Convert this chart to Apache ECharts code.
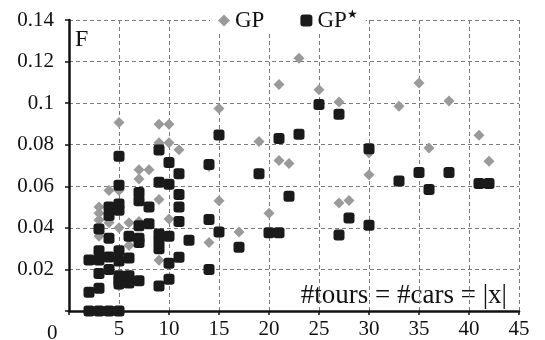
<!DOCTYPE html>
<html>
<head>
<meta charset="utf-8">
<script src="https://cdn.jsdelivr.net/npm/echarts@6/dist/echarts.min.js"></script>
<style>
  html, body { margin: 0; padding: 0; background: #fff; }
  #chart { width: 545px; height: 340px; }
</style>
</head>
<body>
<div id="chart"></div>
<script>
// GP (gray diamonds): [tours, F]
const gpPoints = [
  [3, 0.036], [3, 0.0438], [3, 0.047], [3, 0.050],
  [4, 0.0425], [4, 0.058],
  [5, 0], [5, 0.012], [5, 0.040], [5, 0.058], [5, 0.0907],
  [6, 0.0315], [6, 0.0425],
  [7, 0.043], [7, 0.0635], [7, 0.068],
  [8, 0.068],
  [9, 0.0244], [9, 0.0537], [9, 0.081], [9, 0.0898],
  [10, 0.0443], [10, 0.081], [10, 0.0898],
  [11, 0.0776],
  [14, 0.033], [14, 0.0695],
  [15, 0.053], [15, 0.0974],
  [17, 0.038],
  [19, 0.0816],
  [20, 0.047],
  [21, 0.0724], [21, 0.109],
  [22, 0.071],
  [23, 0.1216],
  [25, 0.1064],
  [27, 0.052], [27, 0.1006],
  [28, 0.0532],
  [30, 0.0655], [30, 0.076],
  [33, 0.0985],
  [35, 0.1097],
  [36, 0.0784],
  [38, 0.101],
  [41, 0.0845],
  [42, 0.0721]
]

// GP* (black squares): [tours, F]
const gpStarPoints = [
  [2, 0], [2, 0.009], [2, 0.0245],
  [3, 0], [3, 0.011], [3, 0.018], [3, 0.0245], [3, 0.029], [3, 0.0395],
  [4, 0], [4, 0.020], [4, 0.026], [4, 0.035], [4, 0.046], [4, 0.050],
  [5, 0], [5, 0.013], [5, 0.0145], [5, 0.017], [5, 0.024], [5, 0.029],
  [5, 0.0485], [5, 0.0515], [5, 0.0605], [5, 0.0745],
  [6, 0.0135], [6, 0.017], [6, 0.0255], [6, 0.036],
  [7, 0.0145], [7, 0.033], [7, 0.035], [7, 0.041], [7, 0.053], [7, 0.057],
  [8, 0.042], [8, 0.050],
  [9, 0.012], [9, 0.030], [9, 0.0335], [9, 0.037], [9, 0.062], [9, 0.0775],
  [10, 0.0153], [10, 0.023], [10, 0.036], [10, 0.061], [10, 0.0715],
  [11, 0.0258], [11, 0.043], [11, 0.050], [11, 0.056], [11, 0.066],
  [12, 0.034],
  [14, 0.020], [14, 0.044], [14, 0.0705],
  [15, 0.038], [15, 0.0847],
  [17, 0.0307],
  [19, 0.066],
  [20, 0.0377],
  [21, 0.0377], [21, 0.083],
  [22, 0.0552],
  [23, 0.085],
  [25, 0.0993],
  [27, 0.0366], [27, 0.0947],
  [28, 0.0448],
  [30, 0.0413], [30, 0.078],
  [33, 0.0626],
  [35, 0.0666],
  [36, 0.0584],
  [38, 0.0666],
  [41, 0.0614],
  [42, 0.0614]
]

const xTicks = [0, 5, 10, 15, 20, 25, 30, 35, 40, 45]
const yTicks = [0, 0.02, 0.04, 0.06, 0.08, 0.1, 0.12, 0.14]

const serif = "Liberation Serif"
const gridLine = { color: "#7a7a7a", width: 1, type: [4, 3] }

const chart = echarts.init(document.getElementById("chart"))

chart.setOption({
  animation: false,
  grid: { left: 69, right: 26, top: 20, bottom: 24 },
  legend: {
    left: 210,
    top: 9,
    itemWidth: 12,
    itemHeight: 12,
    itemGap: 36,
    padding: [0, 8, 0, 8],
    backgroundColor: "#fff",
    textStyle: {
      fontFamily: serif,
      fontSize: 23,
      color: "#111",
      rich: {
        s: { fontFamily: serif, fontSize: 12, color: "#111", verticalAlign: "top", padding: [0, 0, 10, 0] }
      }
    },
    formatter: (name) => name.replace("★", "{s|★}"),
    data: ["GP", "GP★"]
  },
  xAxis: {
    type: "value",
    min: xTicks[0],
    max: xTicks[xTicks.length - 1],
    interval: 5,
    axisLine: { lineStyle: { color: "#111", width: 2.5 } },
    axisTick: { show: true, length: 4, lineStyle: { color: "#111", width: 1.5 } },
    axisLabel: {
      margin: 8,
      fontFamily: serif,
      fontSize: 21,
      color: "#111",
      formatter: (v) => (v === 0 ? "" : String(v))
    },
    splitLine: { show: true, lineStyle: gridLine }
  },
  yAxis: {
    type: "value",
    min: yTicks[0],
    max: yTicks[yTicks.length - 1],
    interval: 0.02,
    axisLine: { show: true, lineStyle: { color: "#111", width: 2.5 } },
    axisTick: { show: true, length: 4, lineStyle: { color: "#111", width: 1.5 } },
    axisLabel: {
      margin: 15,
      fontFamily: serif,
      fontSize: 21,
      color: "#111",
      formatter: (v) => (v === 0 ? "" : String(+v.toFixed(2)))
    },
    splitLine: { show: true, lineStyle: gridLine }
  },
  graphic: [
    {
      type: "text",
      left: 47,
      top: 323,
      style: { text: "0", fontFamily: serif, fontSize: 21, fill: "#111" }
    },
    {
      type: "text",
      left: 75,
      top: 28,
      style: { text: "F", fontFamily: serif, fontSize: 24, fill: "#111" }
    },
    {
      type: "text",
      right: 36,
      top: 282,
      style: {
        text: "#tours = #cars = |x|",
        fontFamily: serif,
        fontSize: 27,
        fill: "#111",
        backgroundColor: "#fff",
        padding: [0, 2, 0, 2]
      }
    }
  ],
  series: [
    {
      name: "GP",
      type: "scatter",
      symbol: "diamond",
      symbolSize: 11,
      itemStyle: { color: "#9a9a9a", opacity: 1 },
      data: gpPoints,
      z: 2
    },
    {
      name: "GP★",
      type: "scatter",
      symbol: "roundRect",
      symbolSize: 11,
      itemStyle: { color: "#1a1a1a", opacity: 1 },
      data: gpStarPoints,
      z: 3
    }
  ]
})
</script>
</body>
</html>
